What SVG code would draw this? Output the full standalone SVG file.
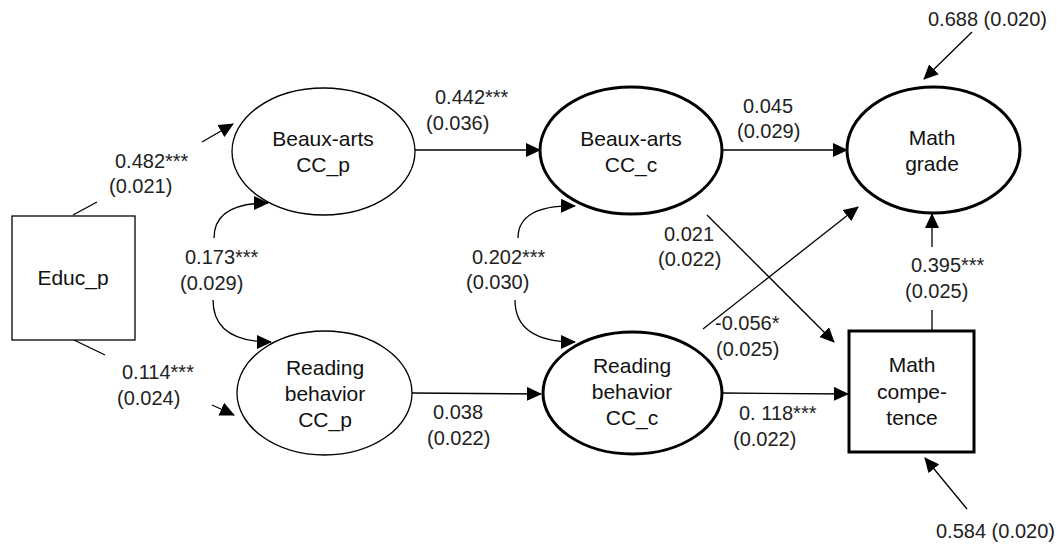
<svg xmlns="http://www.w3.org/2000/svg" width="1061" height="548" viewBox="0 0 1061 548">
<style>
  .lbl { font-family: "Liberation Sans", Arial, sans-serif; font-size: 20px; fill: #222; }
  .nt { font-family: "Liberation Sans", Arial, sans-serif; font-size: 21px; fill: #111; text-anchor: middle; }
  .thin { fill: #fff; stroke: #000; stroke-width: 1.3; }
  .thick { fill: #fff; stroke: #000; stroke-width: 3; }
  .ln { fill: none; stroke: #000; stroke-width: 1.3; }
  .arr { fill: none; stroke: #000; stroke-width: 1.3; marker-end: url(#ah); }
</style>
<defs>
  <marker id="ah" viewBox="0 0 15 14" refX="14" refY="7" markerWidth="15" markerHeight="14" markerUnits="userSpaceOnUse" orient="auto">
    <path d="M0,0 L15,7 L0,14 z" fill="#000"/>
  </marker>
</defs>
<rect width="1061" height="548" fill="#fff"/>

<g id="connectors">
  <line class="ln" x1="73" y1="215" x2="97" y2="202"/>
  <line class="arr" x1="202" y1="142" x2="233" y2="124"/>
  <line class="ln" x1="74" y1="340" x2="105" y2="355"/>
  <line class="arr" x1="212" y1="405" x2="234" y2="415"/>
  <line class="arr" x1="415" y1="150" x2="540" y2="150"/>
  <line class="arr" x1="412" y1="393" x2="541" y2="394"/>
  <line class="arr" x1="722" y1="150" x2="847" y2="150"/>
  <line class="arr" x1="722" y1="393" x2="848" y2="394"/>
  <line class="arr" x1="707" y1="215" x2="834" y2="342"/>
  <line class="arr" x1="703" y1="329" x2="858" y2="207"/>
  <line class="ln" x1="932" y1="310" x2="932" y2="331"/>
  <line class="arr" x1="932" y1="247" x2="932" y2="214"/>
  <line class="arr" x1="972" y1="32" x2="924" y2="79"/>
  <line class="arr" x1="967" y1="509" x2="925" y2="458"/>
  <path class="arr" d="M214,238 Q214,203 268,203"/>
  <path class="arr" d="M213,300 Q213,342 271,342"/>
  <path class="arr" d="M518,238 Q518,205 575,206"/>
  <path class="arr" d="M515,300 Q515,342 575,342"/>
</g>

<g id="labels">
  <text class="lbl" x="115" y="168">0.482***</text>
  <text class="lbl" x="109" y="193">(0.021)</text>
  <text class="lbl" x="122" y="379">0.114***</text>
  <text class="lbl" x="117" y="405">(0.024)</text>
  <text class="lbl" x="185" y="264">0.173***</text>
  <text class="lbl" x="180" y="290">(0.029)</text>
  <text class="lbl" x="435" y="104">0.442***</text>
  <text class="lbl" x="426" y="130">(0.036)</text>
  <text class="lbl" x="472" y="264">0.202***</text>
  <text class="lbl" x="466" y="289">(0.030)</text>
  <text class="lbl" x="433" y="419">0.038</text>
  <text class="lbl" x="427" y="445">(0.022)</text>
  <text class="lbl" x="743" y="113">0.045</text>
  <text class="lbl" x="737" y="138">(0.029)</text>
  <text class="lbl" x="664" y="241">0.021</text>
  <text class="lbl" x="658" y="266">(0.022)</text>
  <text class="lbl" x="715" y="330">-0.056*</text>
  <text class="lbl" x="716" y="356">(0.025)</text>
  <text class="lbl" x="739" y="420">0. 118***</text>
  <text class="lbl" x="733" y="446">(0.022)</text>
  <text class="lbl" x="911" y="272">0.395***</text>
  <text class="lbl" x="905" y="298">(0.025)</text>
  <text class="lbl" x="928" y="26">0.688 (0.020)</text>
  <text class="lbl" x="936" y="538">0.584 (0.020)</text>
</g>

<g id="educ_p">
  <rect class="thin" x="12" y="216" width="123" height="124"/>
  <text class="nt" x="73" y="285">Educ_p</text>
</g>
<g id="beauxarts_p">
  <ellipse class="thin" cx="323.5" cy="151.5" rx="91.5" ry="63.5"/>
  <text class="nt" x="323" y="146">Beaux-arts</text>
  <text class="nt" x="323" y="172">CC_p</text>
</g>
<g id="reading_p">
  <ellipse class="thin" cx="324.5" cy="393" rx="87.5" ry="62"/>
  <text class="nt" x="325" y="375">Reading</text>
  <text class="nt" x="325" y="401">behavior</text>
  <text class="nt" x="325" y="427">CC_p</text>
</g>
<g id="beauxarts_c">
  <ellipse class="thick" cx="631" cy="150.5" rx="91" ry="63.5"/>
  <text class="nt" x="631" y="146">Beaux-arts</text>
  <text class="nt" x="631" y="172">CC_c</text>
</g>
<g id="reading_c">
  <ellipse class="thick" cx="632.5" cy="393" rx="89.5" ry="61"/>
  <text class="nt" x="632" y="373">Reading</text>
  <text class="nt" x="632" y="399">behavior</text>
  <text class="nt" x="632" y="425">CC_c</text>
</g>
<g id="math_grade">
  <ellipse class="thick" cx="933.5" cy="150" rx="86.5" ry="63"/>
  <text class="nt" x="932" y="145">Math</text>
  <text class="nt" x="932" y="171">grade</text>
</g>
<g id="math_competence">
  <rect class="thick" x="849" y="331" width="125" height="121"/>
  <text class="nt" x="912" y="372">Math</text>
  <text class="nt" x="912" y="399">compe-</text>
  <text class="nt" x="912" y="425">tence</text>
</g>
</svg>
